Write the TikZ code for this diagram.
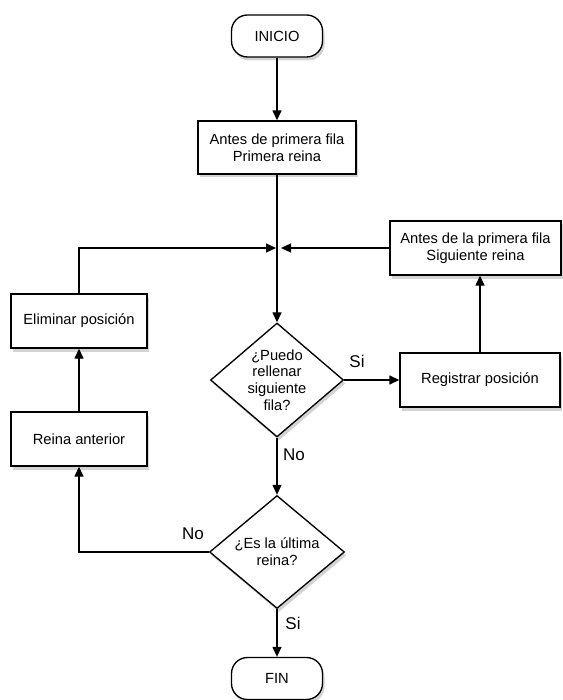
\documentclass[tikz,border=0pt]{standalone}
\usepackage{fontspec}
\setmainfont{Liberation Sans}
\usetikzlibrary{shapes.geometric,arrows.meta,shadows}
\newcommand{\txtsize}{\fontsize{14.7}{16.7}\selectfont}
\newcommand{\lblsize}{\fontsize{17}{19}\selectfont}
\tikzset{
  sombra/.style={drop shadow={opacity=.35,shadow xshift=2pt,shadow yshift=-3.5pt}},
  caja/.style={draw,fill=white,sombra,align=center,font=\txtsize,inner sep=0pt},
  terminal/.style={caja,rounded corners=16pt,minimum width=91pt,minimum height=42pt},
  decision/.style={caja,shape=diamond,aspect=1.17},
  etiqueta/.style={font=\lblsize,inner sep=0pt},
  flecha/.style={->},
}
\begin{document}
\begin{tikzpicture}[x=1pt,y=-1pt,line width=1.35pt,>={Triangle[length=10pt,width=9pt]}]
\useasboundingbox (0,0) rectangle (562,700);
\node[terminal] (inicio) at (277,36) {INICIO};
\node[caja,minimum width=158pt,minimum height=53pt] (antes) at (277,147.5) {Antes de primera fila\\Primera reina};
\node[caja,minimum width=171pt,minimum height=54pt] (siguiente) at (475.5,248) {Antes de la primera fila\\Siguiente reina};
\node[caja,minimum width=136pt,minimum height=54pt] (eliminar) at (79,321) {Eliminar posición};
\node[decision,minimum width=133pt,minimum height=114pt] (puedo) at (277,380) {¿Puedo\\rellenar\\siguiente\\fila?};
\node[caja,minimum width=160pt,minimum height=54pt] (registrar) at (480,380) {Registrar posición};
\node[caja,minimum width=136pt,minimum height=54pt] (anterior) at (79,439) {Reina anterior};
\node[decision,minimum width=135pt,minimum height=113pt] (ultima) at (277,552) {¿Es la última\\reina?};
\node[terminal] (fin) at (277,678.5) {FIN};
\coordinate (cruce) at (277,248);
\node[etiqueta] (si1) at (357,361) {Si};
\node[etiqueta] (no1) at (294,455) {No};
\node[etiqueta] (no2) at (193,534) {No};
\node[etiqueta] (si2) at (293,623) {Si};
\draw[flecha] (inicio) -- (antes);
\draw[flecha] (antes) -- (puedo);
\draw[flecha,shorten >=1pt] (eliminar.north) |- (cruce);
\draw[flecha,shorten >=4pt] (siguiente.west) -- (cruce);
\draw[flecha] (puedo.east) -- (registrar.west);
\draw[flecha] (registrar.north) -- (registrar.north |- siguiente.south);
\draw[flecha] (puedo.south) -- (ultima.north);
\draw[flecha] (ultima.west) -| (anterior.south);
\draw[flecha] (anterior) -- (eliminar);
\draw[flecha] (ultima.south) -- (fin.north);
\end{tikzpicture}
\end{document}
